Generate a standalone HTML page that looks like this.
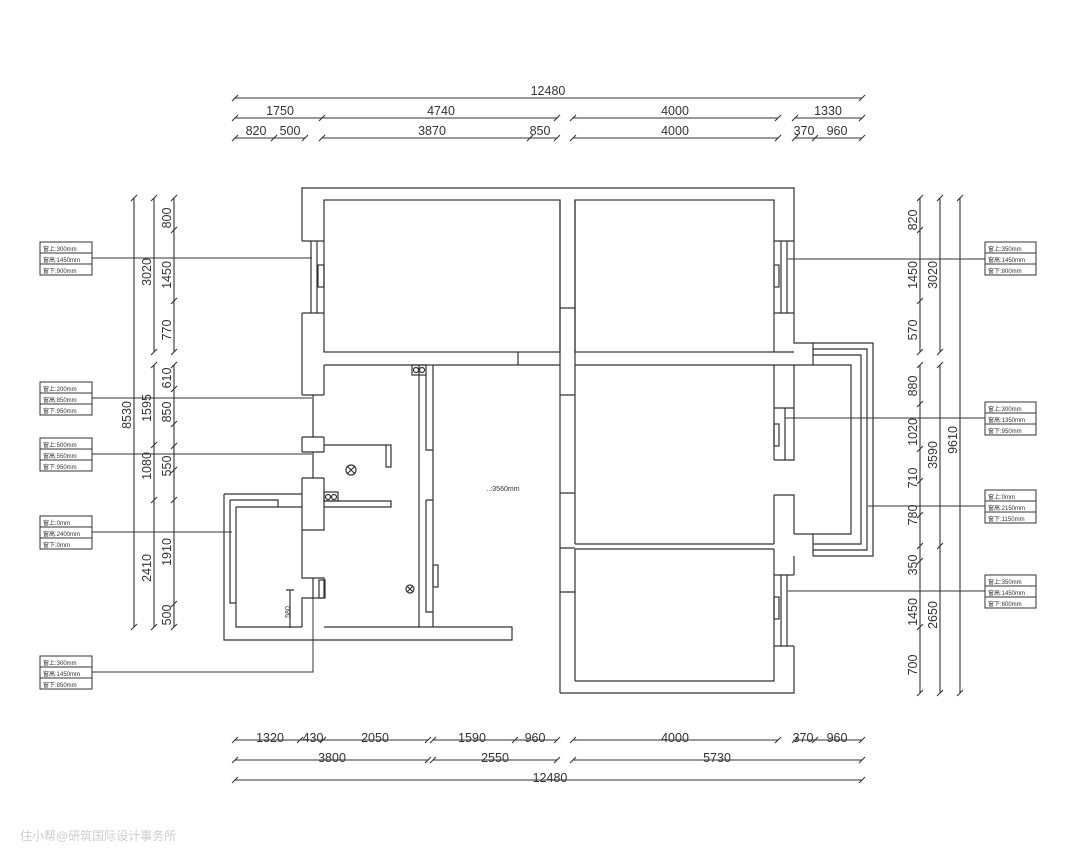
<!DOCTYPE html>
<html><head><meta charset="utf-8"><style>
html,body{margin:0;padding:0;background:#fff;width:1080px;height:864px;overflow:hidden}
svg{display:block}
text{font-family:"Liberation Sans","Noto Sans CJK SC",sans-serif;fill:#333}
.d{font-size:12.5px}
.s{font-size:6px}
</style></head><body>
<svg width="1080" height="864" viewBox="0 0 1080 864" xmlns="http://www.w3.org/2000/svg">
<g stroke="#333" stroke-width="1.1" fill="none">
<!-- top dims -->
<line x1="235" y1="98" x2="862" y2="98"/>
<line x1="235" y1="118" x2="557" y2="118"/><line x1="573" y1="118" x2="778" y2="118"/><line x1="795" y1="118" x2="862" y2="118"/>
<line x1="235" y1="138" x2="305" y2="138"/><line x1="322" y1="138" x2="557" y2="138"/><line x1="573" y1="138" x2="778" y2="138"/><line x1="795" y1="138" x2="862" y2="138"/>
<!-- bottom dims -->
<line x1="235" y1="740" x2="428" y2="740"/><line x1="433" y1="740" x2="557" y2="740"/><line x1="573" y1="740" x2="778" y2="740"/><line x1="795" y1="740" x2="862" y2="740"/>
<line x1="235" y1="760" x2="428" y2="760"/><line x1="433" y1="760" x2="557" y2="760"/><line x1="573" y1="760" x2="862" y2="760"/>
<line x1="235" y1="780" x2="862" y2="780"/>
<!-- left dims -->
<line x1="134" y1="198" x2="134" y2="627"/>
<line x1="154" y1="198" x2="154" y2="352"/><line x1="154" y1="365" x2="154" y2="627"/>
<line x1="174" y1="198" x2="174" y2="352"/><line x1="174" y1="365" x2="174" y2="627"/>
<!-- right dims -->
<line x1="920" y1="198" x2="920" y2="352"/><line x1="920" y1="365" x2="920" y2="693"/>
<line x1="940" y1="198" x2="940" y2="352"/><line x1="940" y1="365" x2="940" y2="693"/>
<line x1="960" y1="198" x2="960" y2="693"/>
</g>
<!-- ticks -->
<g stroke="#333" stroke-width="1.1">
<path d="M232,101l6,-6M232,121l6,-6M319,121l6,-6M554,121l6,-6M570,121l6,-6M775,121l6,-6M792,121l6,-6M859,121l6,-6M859,101l6,-6
M232,141l6,-6M271,141l6,-6M302,141l6,-6M319,141l6,-6M527,141l6,-6M554,141l6,-6M570,141l6,-6M775,141l6,-6M792,141l6,-6M812,141l6,-6M859,141l6,-6
M232,743l6,-6M297,743l6,-6M320,743l6,-6M425,743l6,-6M430,743l6,-6M512,743l6,-6M554,743l6,-6M570,743l6,-6M775,743l6,-6M792,743l6,-6M812,743l6,-6M859,743l6,-6
M232,763l6,-6M425,763l6,-6M430,763l6,-6M554,763l6,-6M570,763l6,-6M859,763l6,-6M232,783l6,-6M859,783l6,-6
M131,201l6,-6M131,630l6,-6M151,201l6,-6M151,355l6,-6M151,368l6,-6M151,448l6,-6M151,503l6,-6M151,630l6,-6
M171,201l6,-6M171,233l6,-6M171,304l6,-6M171,355l6,-6M171,368l6,-6M171,392l6,-6M171,427l6,-6M171,449l6,-6M171,473l6,-6M171,503l6,-6M171,607l6,-6M171,630l6,-6
M917,201l6,-6M917,233l6,-6M917,304l6,-6M917,355l6,-6M917,368l6,-6M917,407l6,-6M917,452l6,-6M917,484l6,-6M917,518l6,-6M917,549l6,-6M917,564l6,-6M917,630l6,-6M917,696l6,-6
M937,201l6,-6M937,355l6,-6M937,368l6,-6M937,549l6,-6M937,696l6,-6M957,201l6,-6M957,696l6,-6"/>
</g>
<g class="d" text-anchor="middle">
<text x="548" y="95">12480</text>
<text x="280" y="115">1750</text><text x="441" y="115">4740</text><text x="675" y="115">4000</text><text x="828" y="115">1330</text>
<text x="256" y="135">820</text><text x="290" y="135">500</text><text x="432" y="135">3870</text><text x="540" y="135">850</text><text x="675" y="135">4000</text><text x="804" y="135">370</text><text x="837" y="135">960</text>
<text x="270" y="742">1320</text><text x="313" y="742">430</text><text x="375" y="742">2050</text><text x="472" y="742">1590</text><text x="535" y="742">960</text><text x="675" y="742">4000</text><text x="803" y="742">370</text><text x="837" y="742">960</text>
<text x="332" y="762">3800</text><text x="495" y="762">2550</text><text x="717" y="762">5730</text>
<text x="550" y="782">12480</text>
</g>
<g class="d" text-anchor="middle">
<text transform="translate(131,415) rotate(-90)">8530</text>
<text transform="translate(151,272) rotate(-90)">3020</text>
<text transform="translate(151,408) rotate(-90)">1595</text>
<text transform="translate(151,466) rotate(-90)">1080</text>
<text transform="translate(151,568) rotate(-90)">2410</text>
<text transform="translate(171,218) rotate(-90)">800</text>
<text transform="translate(171,275) rotate(-90)">1450</text>
<text transform="translate(171,330) rotate(-90)">770</text>
<text transform="translate(171,378) rotate(-90)">610</text>
<text transform="translate(171,412) rotate(-90)">850</text>
<text transform="translate(171,466) rotate(-90)">550</text>
<text transform="translate(171,552) rotate(-90)">1910</text>
<text transform="translate(171,615) rotate(-90)">500</text>
<text transform="translate(917,220) rotate(-90)">820</text>
<text transform="translate(917,275) rotate(-90)">1450</text>
<text transform="translate(917,330) rotate(-90)">570</text>
<text transform="translate(917,386) rotate(-90)">880</text>
<text transform="translate(917,432) rotate(-90)">1020</text>
<text transform="translate(917,478) rotate(-90)">710</text>
<text transform="translate(917,515) rotate(-90)">780</text>
<text transform="translate(917,565) rotate(-90)">350</text>
<text transform="translate(917,612) rotate(-90)">1450</text>
<text transform="translate(917,665) rotate(-90)">700</text>
<text transform="translate(937,275) rotate(-90)">3020</text>
<text transform="translate(937,455) rotate(-90)">3590</text>
<text transform="translate(937,615) rotate(-90)">2650</text>
<text transform="translate(957,440) rotate(-90)">9610</text>
</g>
<!-- label boxes -->
<g stroke="#333" stroke-width="1" fill="none">
<rect x="40" y="242" width="52" height="33"/><line x1="40" y1="253" x2="92" y2="253"/><line x1="40" y1="264" x2="92" y2="264"/>
<rect x="40" y="382" width="52" height="33"/><line x1="40" y1="393" x2="92" y2="393"/><line x1="40" y1="404" x2="92" y2="404"/>
<rect x="40" y="438" width="52" height="33"/><line x1="40" y1="449" x2="92" y2="449"/><line x1="40" y1="460" x2="92" y2="460"/>
<rect x="40" y="516" width="52" height="33"/><line x1="40" y1="527" x2="92" y2="527"/><line x1="40" y1="538" x2="92" y2="538"/>
<rect x="40" y="656" width="52" height="33"/><line x1="40" y1="667" x2="92" y2="667"/><line x1="40" y1="678" x2="92" y2="678"/>
<rect x="985" y="242" width="51" height="33"/><line x1="985" y1="253" x2="1036" y2="253"/><line x1="985" y1="264" x2="1036" y2="264"/>
<rect x="985" y="402" width="51" height="33"/><line x1="985" y1="413" x2="1036" y2="413"/><line x1="985" y1="424" x2="1036" y2="424"/>
<rect x="985" y="490" width="51" height="33"/><line x1="985" y1="501" x2="1036" y2="501"/><line x1="985" y1="512" x2="1036" y2="512"/>
<rect x="985" y="575" width="51" height="33"/><line x1="985" y1="586" x2="1036" y2="586"/><line x1="985" y1="597" x2="1036" y2="597"/>
<path d="M92,258H312M92,398H312M92,454H312M92,532H232M92,672H313V578M788,259H985M785,418H985M868,506H985M788,591H985"/>
</g>
<g class="s">
<text x="43" y="251">窗上:300mm</text><text x="43" y="262">窗高:1450mm</text><text x="43" y="273">窗下:900mm</text>
<text x="43" y="391">窗上:200mm</text><text x="43" y="402">窗高:850mm</text><text x="43" y="413">窗下:950mm</text>
<text x="43" y="447">窗上:500mm</text><text x="43" y="458">窗高:550mm</text><text x="43" y="469">窗下:950mm</text>
<text x="43" y="525">窗上:0mm</text><text x="43" y="536">窗高:2400mm</text><text x="43" y="547">窗下:0mm</text>
<text x="43" y="665">窗上:300mm</text><text x="43" y="676">窗高:1450mm</text><text x="43" y="687">窗下:850mm</text>
<text x="988" y="251">窗上:350mm</text><text x="988" y="262">窗高:1450mm</text><text x="988" y="273">窗下:800mm</text>
<text x="988" y="411">窗上:300mm</text><text x="988" y="422">窗高:1350mm</text><text x="988" y="433">窗下:950mm</text>
<text x="988" y="499">窗上:0mm</text><text x="988" y="510">窗高:2150mm</text><text x="988" y="521">窗下:1150mm</text>
<text x="988" y="584">窗上:350mm</text><text x="988" y="595">窗高:1450mm</text><text x="988" y="606">窗下:800mm</text>
</g>
<!-- walls -->
<g stroke="#333" stroke-width="1.2" fill="none">
<!-- outer top left block -->
<path d="M302,241V188H794V241"/>
<path d="M302,313V395M302,437V452M302,478V530H324V508"/>
<rect x="324" y="200" width="236" height="152"/>
<rect x="575" y="200" width="199" height="152"/>
<!-- top left window -->
<path d="M302,241H324M302,313H324M311,241V313M317,241V313"/>
<rect x="318" y="265" width="6" height="22"/>
<!-- middle wall -->
<path d="M324,365H560M518,352V365"/>
<path d="M324,365V395M324,437V452M324,478V508"/>
<!-- small windows left -->
<path d="M302,395H313V437H302M302,437H324M302,452H324M302,452H313V478H302M302,478H324M313,395H324"/>
<!-- central column -->
<path d="M560,200V693M575,200V544M575,549V681"/>
<path d="M560,308H575M560,395H575M560,493H575M560,548H575M560,592H575"/>
<!-- right top window -->
<path d="M794,241V313M774,241H794M774,313H794M781,241V313M787,241V313"/>
<rect x="774" y="265" width="5" height="22"/>
<path d="M794,313V343H813V365M774,352H794M575,365H794"/>
<!-- balcony -->
<path d="M813,343H873V556H813M813,349H867V550H813M813,355H861V544H813M794,365H851V534H794"/>
<!-- mid right room -->
<path d="M774,365V460M794,365V408M774,408H794V460H774M785,408V460"/>
<rect x="774" y="424" width="5" height="22"/>
<path d="M774,495H794V534M774,495V544M813,534V556M794,556V575"/>
<path d="M575,544H774M575,549H774"/>
<!-- bottom right room -->
<path d="M560,693H794V646M774,575H794M774,646H794M781,575V646M787,575V646M774,549V681H575"/>
<rect x="774" y="597" width="5" height="22"/>
<!-- kitchen -->
<path d="M324,445H386V467H391V445H386M324,501H391V507H324"/>
<rect x="324" y="492" width="14" height="9"/>
<circle cx="328" cy="497" r="2.5"/><circle cx="334" cy="497" r="2.5"/>
<circle cx="351" cy="470" r="5"/><path d="M347,466l8,8M355,466l-8,8"/>
<circle cx="410" cy="589" r="4"/><path d="M407,586l6,6M413,586l-6,6"/>
<!-- corridor wall -->
<path d="M419,365V627M426,375V450H433M433,365V627M426,500H433M426,500V612H433"/>
<rect x="412" y="365" width="14" height="10"/>
<circle cx="416" cy="370" r="2.5"/><circle cx="422" cy="370" r="2.5"/>
<rect x="433" y="565" width="5" height="22"/>
<!-- bathroom / lower left -->
<path d="M224,494H302M230,500H278V507M236,507H302M224,494V640H512V627H324M230,500V603H236M236,507V627H302M302,530V578H324V598H302V627M313,578V598"/>
<rect x="319" y="580" width="6" height="18"/>
<path d="M290,590V628M286,590H294"/>
</g>
<text x="503" y="491" style="font-size:7px" text-anchor="middle">..:3560mm</text>
<text transform="translate(290,612) rotate(-90)" style="font-size:7px" text-anchor="middle">580</text>
<text x="20" y="840" style="font-size:12px;fill:#ccc">住小帮@研筑国际设计事务所</text>
</svg>
</body></html>
